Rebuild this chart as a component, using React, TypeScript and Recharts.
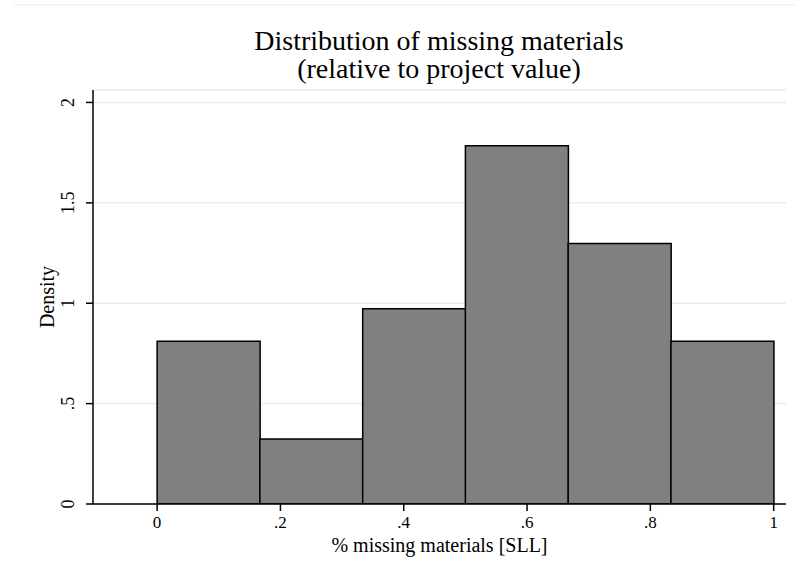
import React from 'react';
import { ComposedChart, Bar, XAxis, YAxis, CartesianGrid, Label } from 'recharts';

const binCenters = [0.0833, 0.25, 0.4167, 0.5833, 0.75, 0.9167];
const densities = [0.811, 0.324, 0.973, 1.784, 1.297, 0.811];
const xTicks = [0, 0.2, 0.4, 0.6, 0.8, 1];
const yTicks = [0, 0.5, 1, 1.5, 2];

const data = binCenters.map((x, i) => ({ x, density: densities[i] }));

const FONT = '"Liberation Serif", "Times New Roman", serif';

const fmt = (v: number) => {
  if (v === 0) return '0';
  if (Number.isInteger(v)) return String(v);
  const s = String(v);
  return s.startsWith('0.') ? s.slice(1) : s;
};

const XTick = (props: any) => {
  const { x, y, payload } = props;
  return (
    <text x={x} y={y + 15} textAnchor="middle" fontFamily={FONT} fontSize={17} fill="#000">
      {fmt(payload.value)}
    </text>
  );
};

const YTick = (props: any) => {
  const { y, payload } = props;
  const bx = 74;
  return (
    <text
      x={bx}
      y={y}
      transform={`rotate(-90, ${bx}, ${y})`}
      textAnchor="middle"
      fontFamily={FONT}
      fontSize={18}
      fill="#000"
    >
      {fmt(payload.value)}
    </text>
  );
};

export default function App() {
  return (
    <div style={{ position: 'absolute', left: 0, top: 0, width: 795, height: 578, background: '#fff' }}>
      <ComposedChart
        width={795}
        height={578}
        data={data}
        margin={{ top: 90, right: 9, left: 0, bottom: 0 }}
        barCategoryGap={0}
        barGap={0}
      >
        <CartesianGrid horizontal={true} vertical={false} stroke="#ebebeb" strokeWidth={1.5} />
        <XAxis
          dataKey="x"
          type="number"
          domain={[-0.104, 1.02]}
          ticks={xTicks}
          allowDataOverflow
          height={74}
          tickSize={7}
          tick={<XTick />}
          axisLine={{ stroke: '#000', strokeWidth: 1.5 }}
          tickLine={{ stroke: '#000', strokeWidth: 1.5 }}
        >
          <Label
            content={(p: any) => {
              const vb = p.viewBox || { x: 93, width: 693 };
              return (
                <text x={vb.x + vb.width / 2} y={552} textAnchor="middle" fontFamily={FONT} fontSize={20} fill="#000">
                  % missing materials [SLL]
                </text>
              );
            }}
          />
        </XAxis>
        <YAxis
          type="number"
          domain={[0, 2.062]}
          ticks={yTicks}
          allowDataOverflow
          width={93}
          tickSize={7}
          tick={<YTick />}
          axisLine={{ stroke: '#000', strokeWidth: 1.5 }}
          tickLine={{ stroke: '#000', strokeWidth: 1.5 }}
        >
          <Label
            content={(p: any) => {
              const vb = p.viewBox || { y: 90, height: 414 };
              const cy = vb.y + vb.height / 2;
              return (
                <text
                  x={54}
                  y={cy}
                  transform={`rotate(-90, 54, ${cy})`}
                  textAnchor="middle"
                  fontFamily={FONT}
                  fontSize={20}
                  fill="#000"
                >
                  Density
                </text>
              );
            }}
          />
        </YAxis>
        <Bar dataKey="density" fill="#808080" stroke="#000" strokeWidth={1.5} isAnimationActive={false} />
      </ComposedChart>
      <svg
        width={795}
        height={578}
        style={{ position: 'absolute', left: 0, top: 0, pointerEvents: 'none' }}
      >
        <line x1={14} y1={5} x2={795} y2={5} stroke="#f2f2f2" strokeWidth={1.5} />
        <text x={439} y={50} textAnchor="middle" fontFamily={FONT} fontSize={28} fill="#000">
          Distribution of missing materials
        </text>
        <text x={439} y={78} textAnchor="middle" fontFamily={FONT} fontSize={28} fill="#000">
          (relative to project value)
        </text>
      </svg>
    </div>
  );
}
